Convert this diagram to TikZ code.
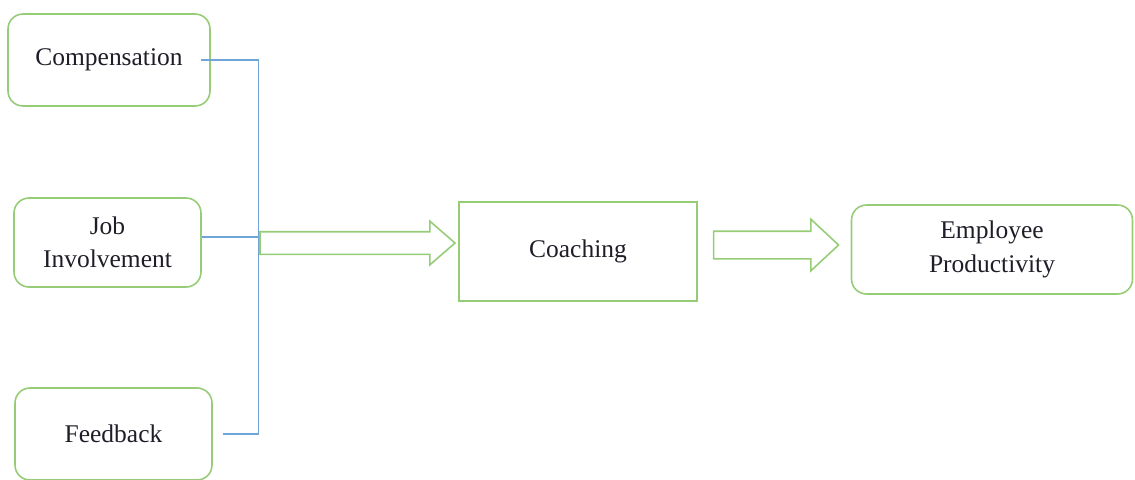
\documentclass[tikz,border=0pt]{standalone}
\usepackage{fontspec}
\setmainfont{Liberation Serif}
\usepackage{xcolor}
\usetikzlibrary{positioning,shapes.arrows,calc}
\definecolor{cmgreen}{RGB}{150,204,118}
\definecolor{cmblue}{RGB}{112,165,218}
\definecolor{cmtext}{RGB}{30,30,40}
\tikzset{
  factor/.style={draw=cmgreen, line width=0.9pt, rounded corners=0.3cm, align=center, font=\fontsize{14.5}{19}\selectfont, text=cmtext},
  core/.style={draw=cmgreen, line width=0.9pt, align=center, font=\fontsize{14.5}{19}\selectfont, text=cmtext},
  bigarrow/.style={draw=cmgreen, line width=0.9pt, single arrow, inner xsep=0pt, single arrow tip angle=82},
  link/.style={cmblue, line width=0.6pt}
}

\begin{document}
\begin{tikzpicture}
    \useasboundingbox (0,0) rectangle (22.7,-9.58);
    % factors on the left
    \node[factor, minimum width=4.04cm, minimum height=1.84cm] (comp) at (2.18,-1.20) {Compensation};
    \node[factor, minimum width=3.74cm, minimum height=1.78cm] (job) at (2.15,-4.85) {Job\\Involvement};
    \node[factor, minimum width=3.94cm, minimum height=1.84cm] (feed) at (2.27,-8.68) {Feedback};
    % mediator and outcome
    \node[core, minimum width=4.76cm, minimum height=1.98cm] (coach) at (11.56,-5.03) {Coaching};
    \node[factor, minimum width=5.62cm, minimum height=1.78cm] (emp) at (19.84,-4.99) {Employee\\Productivity};
    % block arrows
    \node[bigarrow, minimum height=3.9cm, inner ysep=0.21cm, single arrow head extend=0.21cm, anchor=tip] (push1) at ([xshift=-0.04cm,yshift=0.17cm]coach.west) {};
    \node[bigarrow, minimum height=2.5cm, inner ysep=0.26cm, single arrow head extend=0.24cm, single arrow tip angle=86, anchor=tip] (push2) at ([xshift=-0.22cm,yshift=0.09cm]emp.west) {};
    % joining lines
    \coordinate (bus) at (5.17,0);
    \coordinate (jobout) at ([yshift=0.11cm]job.east);
    \draw[link] ([xshift=-0.2cm]comp.east) -| (bus |- feed.east) -- ([xshift=0.2cm]feed.east);
    \draw[link] (jobout) -- (jobout -| bus);
\end{tikzpicture}
\end{document}
